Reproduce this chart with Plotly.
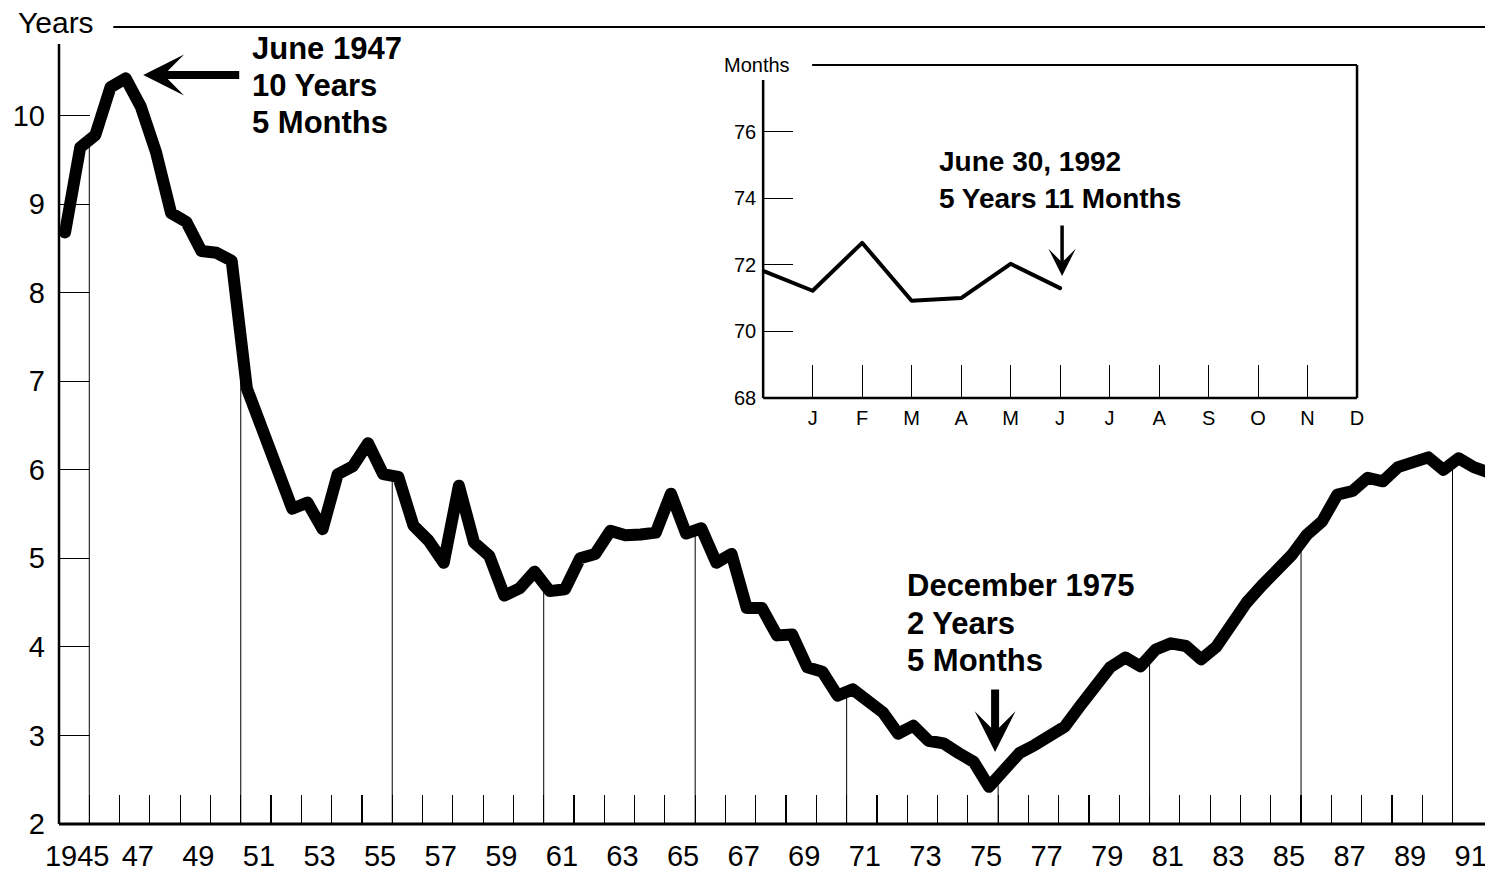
import numpy as np
import plotly.graph_objects as go

# ---------------- data ----------------
# Semiannual observations (first half / second half of each year), 1945 - mid 1992
first_year = 1945
maturity_years = [8.68, 9.64, 9.78, 10.32, 10.42, 10.10, 9.59, 8.90, 8.80, 8.47,
                  8.45, 8.36, 6.92, 6.45, 6.02, 5.56, 5.63, 5.33, 5.95, 6.04,
                  6.30, 5.95, 5.92, 5.37, 5.20, 4.95, 5.82, 5.18, 5.03, 4.58,
                  4.66, 4.85, 4.63, 4.65, 5.00, 5.05, 5.31, 5.26, 5.27, 5.29,
                  5.73, 5.28, 5.34, 4.95, 5.05, 4.44, 4.44, 4.13, 4.14, 3.77,
                  3.72, 3.45, 3.52, 3.37, 3.26, 3.02, 3.11, 2.94, 2.91, 2.80,
                  2.70, 2.42, 2.62, 2.80, 2.89, 2.98, 3.10, 3.33, 3.55, 3.77,
                  3.88, 3.78, 3.97, 4.04, 4.01, 3.86, 4.00, 4.27, 4.50, 4.69,
                  4.87, 5.04, 5.27, 5.42, 5.72, 5.76, 5.91, 5.87, 6.03, 6.10,
                  6.14, 6.00, 6.13, 6.03, 5.97]
period_x = [first_year + 0.2 + 0.5 * k for k in range(len(maturity_years))]

year_tick_labels = ["1945"] + [f"{y % 100:02d}" for y in range(1947, 1992, 2)]
year_label_pos = [y + 0.6 for y in range(1945, 1992, 2)]
drop_years = list(range(1946, 1992, 5))
y_ticks = [2, 3, 4, 5, 6, 7, 8, 9, 10]

# Inset: 1992 monthly values (months)
inset_month_pos = [0, 1, 2, 3, 4, 5, 6]
inset_months_values = [71.82, 71.22, 72.66, 70.92, 71.00, 72.03, 71.30]
month_labels = ["J", "F", "M", "A", "M", "J", "J", "A", "S", "O", "N", "D"]
inset_y_ticks = [68, 70, 72, 74, 76]

# ---------------- geometry helpers ----------------
W, H = 1492, 872
SX = W / 1485.0            # horizontal compensation of the page capture
L, R, T, B = 59, 0, 27, 48
PW, PH = W - L - R, H - T - B
PX_PER_YEAR = 30.3 * SX
X0 = 1945.0
X1 = X0 + PW / PX_PER_YEAR


def px(xp):
    return (xp * SX - L) / PW


def py(yp):
    return (H - B - yp) / PH


FONT = "Liberation Sans, Arial, Helvetica, sans-serif"
BLACK = "#000000"

fig = go.Figure()

fig.add_trace(go.Scatter(x=period_x, y=maturity_years, mode="lines",
                         line=dict(color=BLACK, width=12),
                         xaxis="x", yaxis="y", showlegend=False,
                         hoverinfo="skip"))

fig.add_trace(go.Scatter(x=inset_month_pos, y=inset_months_values, mode="lines",
                         line=dict(color=BLACK, width=4),
                         xaxis="x2", yaxis="y2", showlegend=False,
                         hoverinfo="skip"))

shapes = []
# drop lines from the curve to the axis every 5 years
drop_vals = np.interp(drop_years, period_x, maturity_years)
for yr, v in zip(drop_years, drop_vals):
    shapes.append(dict(type="line", xref="x", yref="y", x0=yr, x1=yr, y0=2, y1=float(v),
                       line=dict(color=BLACK, width=1), layer="below"))

# main frame lines
shapes += [
    dict(type="line", xref="paper", yref="paper", x0=0, x1=1, y0=0, y1=0,
         line=dict(color=BLACK, width=3)),
    dict(type="line", xref="paper", yref="paper", x0=0, x1=0, y0=0, y1=py(44),
         line=dict(color=BLACK, width=2.5)),
    dict(type="line", xref="paper", yref="paper", x0=px(113), x1=1, y0=py(27), y1=py(27),
         line=dict(color=BLACK, width=2)),
]

# inset frame
ix0, ix1, iy0, iy1 = px(763), px(1357), py(398), py(65)
shapes += [
    dict(type="line", xref="paper", yref="paper", x0=ix0, x1=ix1, y0=iy0, y1=iy0,
         line=dict(color=BLACK, width=2.5)),
    dict(type="line", xref="paper", yref="paper", x0=ix1, x1=ix1, y0=iy0, y1=iy1,
         line=dict(color=BLACK, width=2.5)),
    dict(type="line", xref="paper", yref="paper", x0=px(812), x1=ix1, y0=iy1, y1=iy1,
         line=dict(color=BLACK, width=2)),
    dict(type="line", xref="paper", yref="paper", x0=ix0, x1=ix0, y0=iy0, y1=py(80),
         line=dict(color=BLACK, width=2.5)),
]

annotations = []


def text(xp, yp, s, size, bold=False, anchor="left"):
    annotations.append(dict(xref="paper", yref="paper", x=px(xp), y=py(yp),
                            xanchor=anchor, yanchor="middle", showarrow=False,
                            text=("<b>%s</b>" % s) if bold else s,
                            font=dict(family=FONT, size=size, color=BLACK)))


def arrow(tip_x, tip_y, tail_x, tail_y, width, size):
    annotations.append(dict(xref="paper", yref="paper", x=px(tip_x), y=py(tip_y),
                            axref="pixel", ayref="pixel",
                            ax=(tail_x - tip_x) * SX, ay=tail_y - tip_y,
                            text="", showarrow=True, arrowhead=3,
                            arrowwidth=width, arrowsize=size, arrowcolor=BLACK,
                            standoff=0))


text(16, 23, "Years", 30)
text(722, 65, "Months", 20)

text(250, 48, "June 1947", 31, bold=True)
text(250, 86, "10 Years", 31, bold=True)
text(250, 123, "5 Months", 31, bold=True)
arrow(143, 75, 240, 75, 8, 0.85)

text(905, 586, "December 1975", 31, bold=True)
text(905, 623, "2 Years", 31, bold=True)
text(905, 660, "5 Months", 31, bold=True)
arrow(995, 752, 995, 688, 8, 0.85)

text(937, 161, "June 30, 1992", 28, bold=True)
text(937, 198, "5 Years 11 Months", 28, bold=True)
arrow(1062, 276, 1062, 224, 3.5, 1.3)

fig.update_layout(
    width=W, height=H, autosize=False,
    margin=dict(l=L, r=R, t=T, b=B, pad=0),
    paper_bgcolor="white", plot_bgcolor="white",
    font=dict(family=FONT, color=BLACK),
    showlegend=False,
    hovermode=False,
    shapes=shapes,
    annotations=annotations,
    xaxis=dict(domain=[0, 1], range=[X0, X1], anchor="y",
               showgrid=False, zeroline=False, showline=False,
               tickmode="array", tickvals=year_label_pos, ticktext=year_tick_labels,
               ticks="", ticklabelstandoff=12,
               tickfont=dict(family=FONT, size=29, color=BLACK),
               minor=dict(tickmode="array", tickvals=list(range(1946, 1992)),
                          ticks="inside", ticklen=29, tickwidth=1.2,
                          tickcolor=BLACK, showgrid=False)),
    yaxis=dict(domain=[0, 1], range=[2, 11], anchor="x",
               showgrid=False, zeroline=False, showline=False,
               tickmode="array", tickvals=y_ticks,
               ticks="inside", ticklen=31, tickwidth=1.2, tickcolor=BLACK,
               ticklabelstandoff=13,
               tickfont=dict(family=FONT, size=29, color=BLACK)),
    xaxis2=dict(domain=[ix0, ix1], range=[0, 12], anchor="y2",
                showgrid=False, zeroline=False, showline=False,
                tickmode="array", tickvals=list(range(1, 13)), ticktext=month_labels,
                ticks="inside", ticklen=33, tickwidth=1, tickcolor=BLACK,
                ticklabelstandoff=6,
                tickfont=dict(family=FONT, size=20, color=BLACK)),
    yaxis2=dict(domain=[iy0, iy1], range=[68, 78], anchor="x2",
                showgrid=False, zeroline=False, showline=False,
                tickmode="array", tickvals=inset_y_ticks,
                ticks="inside", ticklen=30, tickwidth=1, tickcolor=BLACK,
                ticklabelstandoff=6,
                tickfont=dict(family=FONT, size=20, color=BLACK)),
)

post = (
    "document.documentElement.style.margin='0px';"
    "document.documentElement.style.padding='0px';"
    "document.documentElement.style.overflow='hidden';"
    "document.body.style.margin='0px';"
    "document.body.style.padding='0px';"
    "document.body.style.overflow='hidden';"
    "document.querySelectorAll('.scatterlayer .js-line').forEach(function(p){"
    "p.style.strokeLinejoin='round';p.style.strokeLinecap='round';});"
)

fig.write_html("out.html", post_script=post,
               config={"displayModeBar": False, "responsive": False,
                       "staticPlot": True})
